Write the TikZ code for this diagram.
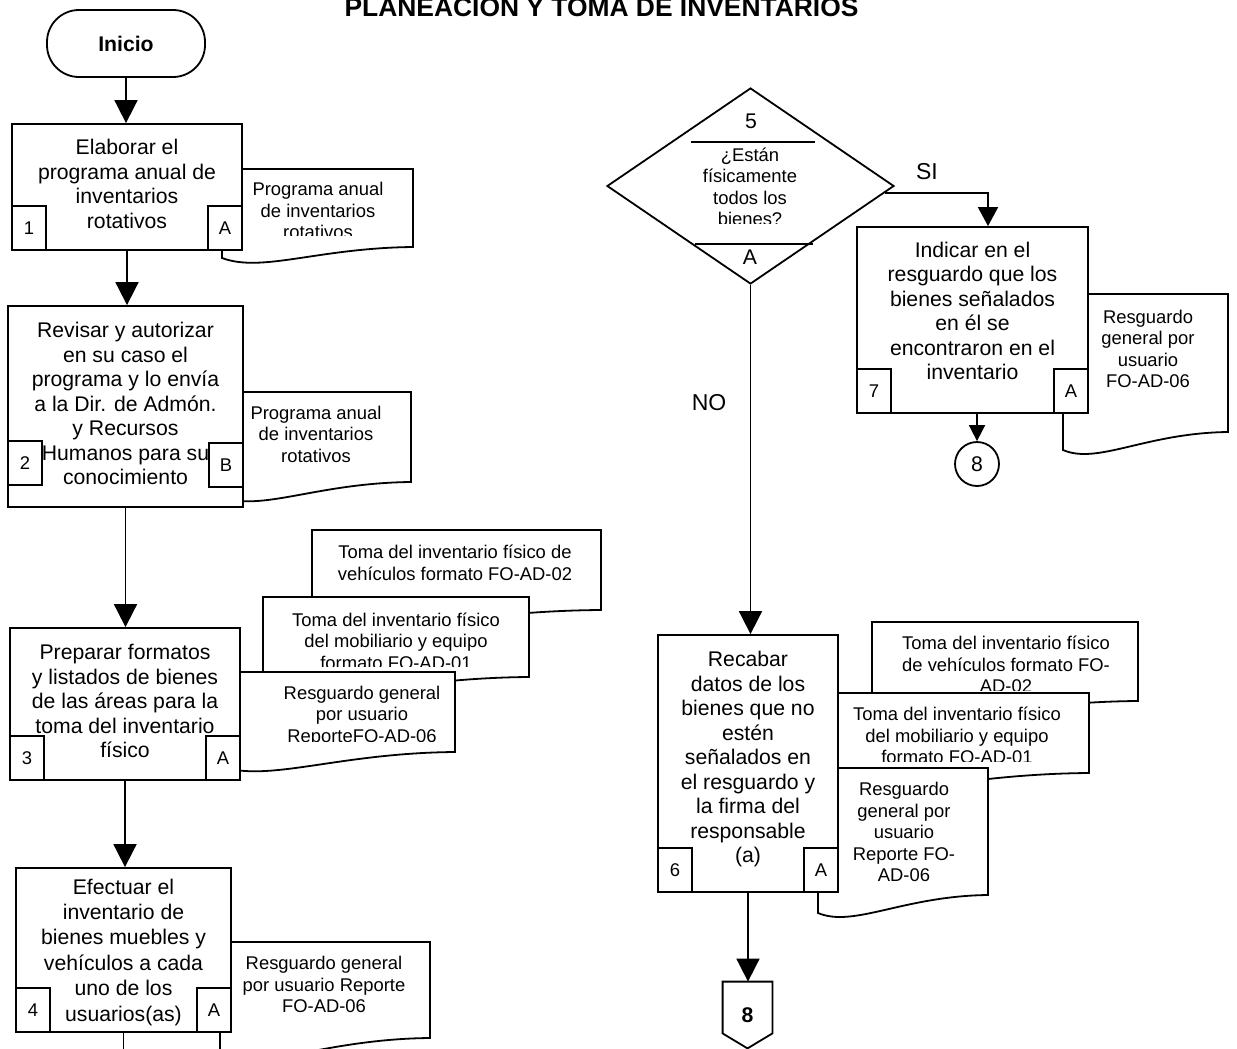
\documentclass[tikz,border=0pt]{standalone}
\usepackage{fontspec}
\setmainfont{Liberation Sans}
\usetikzlibrary{arrows.meta,positioning,calc,shapes.geometric}
\newcommand{\boxfont}{\fontsize{10.6}{12.25}\selectfont}
\newcommand{\docfont}{\fontsize{9.2}{10.75}\selectfont}
% document outline: left, top, right, right bottom, left bottom
\newcommand{\docshape}[5]{%
  \draw[docline] (#1,#5) -- (#1,#2) -- (#3,#2) -- (#3,#4)
    .. controls ({#1+0.5*(#3-#1)},{#4+1}) and ({#1+0.21*(#3-#1)},{#5+15}) .. (#1,#5) -- cycle;}

\begin{document}
\begin{tikzpicture}[
  x=0.5pt,y=-0.5pt,
  proc/.style={draw,fill=white,line width=.9pt,align=center,font=\boxfont,inner sep=1pt},
  num/.style={draw,fill=white,line width=.9pt,minimum width=17pt,minimum height=22pt,
    inner sep=0pt,font=\fontsize{9.2}{10}\selectfont},
  term/.style={draw,rounded corners=16pt,line width=.9pt,minimum width=79pt,
    minimum height=33.5pt,font=\bfseries\boxfont},
  doctext/.style={align=center,font=\docfont,inner sep=0pt},
  docline/.style={draw,fill=white,line width=.9pt},
  arr/.style={-{Triangle[length=11.5pt,width=11.5pt]},line width=.9pt},
  arrs/.style={-{Triangle[length=9.5pt,width=10pt]},line width=.9pt},
  arrt/.style={-{Triangle[length=8pt,width=8pt]},line width=.9pt},
  lbl/.style={font=\fontsize{11.5}{13}\selectfont}
]
\useasboundingbox (0,0) rectangle (1237,1049);
\node[anchor=base,font=\bfseries\fontsize{13.2}{15}\selectfont] (title) at (601.5,17)
  {PLANEACION Y TOMA DE INVENTARIOS};

% documents (behind the steps)
\docshape{222}{169}{413}{247}{258}
\begin{scope}
  \clip (200,160) rectangle (420,235);
  \node[doctext] (dt1) at (318,210.5) {Programa anual\\de inventarios\\rotativos};
\end{scope}
\docshape{222}{392}{411}{482}{497}
\node[doctext] (dt2) at (316,434) {Programa anual\\de inventarios\\rotativos};
\docshape{312}{530}{601}{610}{626}
\node[doctext] (dt3a) at (455,563) {Toma del inventario físico de\\vehículos formato FO-AD-02};
\docshape{263}{597}{529}{677}{693}
\begin{scope}
  \clip (240,590) rectangle (540,666);
  \node[doctext] (dt3b) at (396,641) {Toma del inventario físico\\del mobiliario y equipo\\formato FO-AD-01};
\end{scope}
\docshape{222}{672}{455}{752}{767}
\begin{scope}
  \clip (240,670) rectangle (460,741);
  \node[doctext] (dt3c) at (362,716) {Resguardo general\\por usuario\\ReporteFO-AD-06};
\end{scope}
\docshape{220}{942}{430}{1038}{1056}
\node[doctext] (dt4) at (324,984.5) {Resguardo general\\por usuario Reporte\\FO-AD-06};
\docshape{872}{622}{1138}{701}{717}
\begin{scope}
  \clip (860,615) rectangle (1150,690);
  \node[doctext] (dt6a) at (1006,664.5) {Toma del inventario físico\\de vehículos formato FO-\\AD-02};
\end{scope}
\docshape{818}{693}{1089}{773}{789}
\begin{scope}
  \clip (830,690) rectangle (1100,761);
  \node[doctext] (dt6b) at (957,735.5) {Toma del inventario físico\\del mobiliario y equipo\\formato FO-AD-01};
\end{scope}
\docshape{818}{768}{988}{895}{913}
\node[doctext] (dt6c) at (904,832) {Resguardo\\general por\\usuario\\Reporte FO-\\AD-06};
\docshape{1063}{294}{1228}{432}{450}
\node[doctext] (dt7) at (1148,349) {Resguardo\\general por\\usuario\\FO-AD-06};

% left column
\node[term] (ini) at (126,43.5) {Inicio};
\node[proc,minimum width=115pt,minimum height=63pt,text depth=3pt] (b1) at (127,187)
  {Elaborar el\\programa anual de\\inventarios\\rotativos};
\node[num,anchor=south west] (n1) at (b1.south west) {1};
\node[num,anchor=south east] (a1) at (b1.south east) {A};
\node[proc,minimum width=117.5pt,minimum height=100.5pt,text depth=3pt] (b2) at (125.5,406.5)
  {Revisar y autorizar\\en su caso el\\programa y lo envía\\a la Dir. de Admón.\\y Recursos\\Humanos para su\\conocimiento};
\node[num,anchor=south west] (n2) at ([yshift=11pt]b2.south west) {2};
\node[num,anchor=south east] (a2) at ([yshift=10pt]b2.south east) {B};
\node[proc,minimum width=115pt,minimum height=76pt,text depth=3pt] (b3) at (125,704)
  {Preparar formatos\\y listados de bienes\\de las áreas para la\\toma del inventario\\físico};
\node[num,anchor=south west] (n3) at (b3.south west) {3};
\node[num,anchor=south east] (a3) at (b3.south east) {A};
\node[proc,minimum width=107.5pt,minimum height=82pt,text depth=0pt,
  font=\fontsize{10.6}{12.7}\selectfont] (b4) at (123.5,950)
  {Efectuar el\\inventario de\\bienes muebles y\\vehículos a cada\\uno de los\\usuarios(as)};
\node[num,anchor=south west] (n4) at (b4.south west) {4};
\node[num,anchor=south east] (a4) at (b4.south east) {A};
\coordinate (b4out) at (123.5,1070);

% right column
\node[draw,diamond,line width=.9pt,minimum width=143.5pt,minimum height=98pt,inner sep=0pt] (d5) at (750.5,186) {};
\draw[line width=.9pt] ($(d5)+(-60,-44)$) -- ++(124,0);
\draw[line width=.9pt] ($(d5)+(-56,58)$) -- ++(118,0);
\node[font=\boxfont] (d5n) at (751,121) {5};
\begin{scope}
  \clip (650,140) rectangle (850,223);
  \node[doctext] (d5q) at (750,187) {¿Están\\físicamente\\todos los\\bienes?};
\end{scope}
\node[font=\boxfont] (d5a) at (750,257) {A};
\node[lbl] (si) at (927,172) {SI};
\node[lbl] (no) at (709,403) {NO};

\node[proc,minimum width=115.5pt,minimum height=93pt,text depth=9pt] (b7) at (972.5,320)
  {Indicar en el\\resguardo que los\\bienes señalados\\en él se\\encontraron en el\\inventario};
\node[num,anchor=south west] (n7) at (b7.south west) {7};
\node[num,anchor=south east] (a7) at (b7.south east) {A};
\node[draw,circle,line width=.9pt,minimum size=22pt,inner sep=0pt,font=\boxfont] (c8) at (977,464) {8};

\node[proc,minimum width=90pt,minimum height=128.5pt,text depth=6.5pt] (b6) at (748,763.5)
  {Recabar\\datos de los\\bienes que no\\estén\\señalados en\\el resguardo y\\la firma del\\responsable\\(a)};
\node[num,anchor=south west] (n6) at (b6.south west) {6};
\node[num,anchor=south east] (a6) at (b6.south east) {A};
\node[minimum width=24.5pt,minimum height=33pt,inner sep=0pt,font=\bfseries\boxfont] (o8) at (747.5,1015) {8};
\draw[line width=.9pt] (o8.north west) -- (o8.north east) -- ($(o8.south east)+(0,-15)$)
  -- (o8.south) -- ($(o8.south west)+(0,-15)$) -- cycle;

% connectors
\draw[arr] (ini.south) -- (ini.south |- b1.north);
\draw[arr] (b1.south) -- (b1.south |- b2.north);
\draw[arr] (b2.south) -- (b2.south |- b3.north);
\draw[arr] (b3.south) -- (b3.south |- b4.north);
\draw[line width=.9pt] (b4.south) -- (b4out);
\draw[arrs] ($(d5.east)!0.07!(d5.south)$) -| ([xshift=7.75pt]b7.north);
\draw[arrt] (c8.north |- b7.south) -- (c8.north);
\draw[arr] (d5.south) -- (d5.south |- b6.north);
\draw[arr] (b6.south) -- (b6.south |- o8.north);
\end{tikzpicture}
\end{document}
